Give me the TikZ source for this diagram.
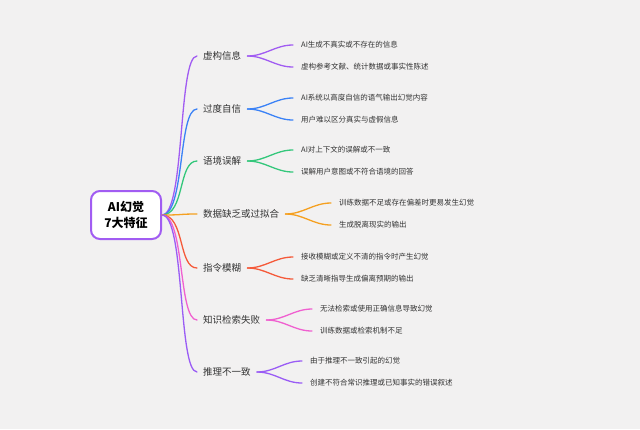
\documentclass[tikz,border=0pt]{standalone}
\usepackage{fontspec}
\setmainfont{Noto Sans CJK SC}
\usetikzlibrary{positioning}

\definecolor{bgcol}{HTML}{F2F1F1}
\definecolor{cpurple}{HTML}{A15CF2}
\definecolor{cblue}{HTML}{3B82F6}
\definecolor{cgreen}{HTML}{34C77B}
\definecolor{corange}{HTML}{F5A020}
\definecolor{cred}{HTML}{F55A3A}
\definecolor{cpink}{HTML}{F060D0}
\definecolor{cviolet}{HTML}{9A5CF5}
\definecolor{txt}{HTML}{333333}

\tikzset{
  rootbox/.style={draw=cpurple, line width=2pt, fill=white, rounded corners=9pt,
    minimum width=70pt, minimum height=48pt, align=center, font=\fontsize{12}{16}\selectfont\bfseries, text=black},
  catnode/.style={anchor=west, inner xsep=6pt, inner ysep=2pt, font=\fontsize{9.5}{11}\selectfont, text=txt},
  leafnode/.style={anchor=west, inner xsep=8pt, inner ysep=1pt, font=\fontsize{7.5}{9}\selectfont, text=txt},
  branch/.style={line width=1.3pt, line cap=round}
}

\begin{document}
\begin{tikzpicture}[x=1pt,y=-1pt]
  \fill[bgcol] (0,0) rectangle (640,429);
  \useasboundingbox (0,0) rectangle (640,429);

  \node[rootbox] (root) at (126,215) {AI幻觉\\7大特征};

  \foreach \i/\y/\fx/\col/\name/\la/\lb in {
    1/56/293/cpurple/虚构信息/AI生成不真实或不存在的信息/虚构参考文献、统计数据或事实性陈述,
    2/109/293/cblue/过度自信/AI系统以高度自信的语气输出幻觉内容/用户难以区分真实与虚假信息,
    3/161/293/cgreen/语境误解/AI对上下文的误解或不一致/误解用户意图或不符合语境的回答,
    4/214/331/corange/数据缺乏或过拟合/训练数据不足或存在偏差时更易发生幻觉/生成脱离现实的输出,
    5/268/293/cred/指令模糊/接收模糊或定义不清的指令时产生幻觉/缺乏清晰指导生成偏离预期的输出,
    6/320/312/cpink/知识检索失败/无法检索或使用正确信息导致幻觉/训练数据或检索机制不足,
    7/372/302/cviolet/推理不一致/由于推理不一致引起的幻觉/创建不符合常识推理或已知事实的错误叙述}{
    \node[catnode] (c\i) at (197,\y) {\name};
    \node[leafnode] (c\i a) at (\fx,\y-11) {\la};
    \node[leafnode] (c\i b) at (\fx,\y+11) {\lb};
    % root to category
    \draw[branch, \col] (root.east) .. controls (185,215) and (178,\y) .. (c\i.west);
    % category to its two leaves
    \draw[branch, \col] (c\i.east) .. controls ([xshift=18pt]c\i.east) and ([xshift=-18pt]c\i a.west) .. (c\i a.west);
    \draw[branch, \col] (c\i.east) .. controls ([xshift=18pt]c\i.east) and ([xshift=-18pt]c\i b.west) .. (c\i b.west);
  }
\end{tikzpicture}
\end{document}
